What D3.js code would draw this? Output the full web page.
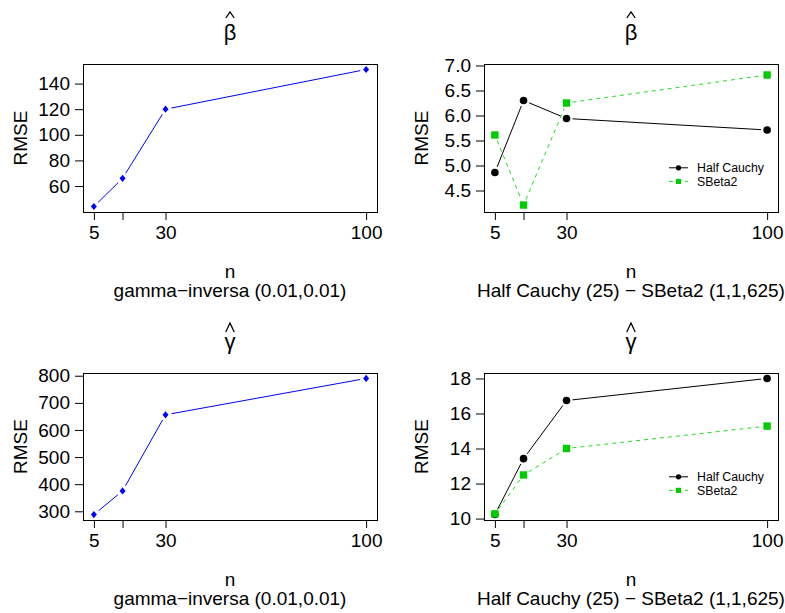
<!DOCTYPE html>
<html>
<head>
<meta charset="utf-8">
<script src="https://cdn.jsdelivr.net/npm/d3@7"></script>
<style>
  html, body { margin: 0; padding: 0; background: #fff; }
  svg { display: block; font-family: "Liberation Sans", Arial, Helvetica, sans-serif; }
</style>
</head>
<body>
<svg id="chart" width="785" height="613"></svg>
<script>
// Sample sizes and their tick labels (15 has a tick but no label)
const nValues = [5, 15, 30, 100];
const xTickLabels = ["5", "", "30", "100"];

// RMSE of beta-hat and gamma-hat under the inverse-gamma prior
const betaGammaInv = [44, 66, 120, 151];
const gammaGammaInv = [288, 375, 656, 790];

// RMSE under Half Cauchy (25) and SBeta2 (1,1,625) priors
const betaHalfCauchy = [4.86, 6.30, 5.94, 5.71];
const betaSBeta2 = [5.61, 4.21, 6.25, 6.81];
const gammaHalfCauchy = [10.23, 13.42, 16.74, 18.0];
const gammaSBeta2 = [10.27, 12.49, 14.0, 15.28];

// y-axis ticks per panel
const yTicksBetaInv = [60, 80, 100, 120, 140];
const yTicksBetaMix = [4.5, 5.0, 5.5, 6.0, 6.5, 7.0];
const yTicksGammaInv = [300, 400, 500, 600, 700, 800];
const yTicksGammaMix = [10, 12, 14, 16, 18];
const yLimitsBetaMix = [4.18, 6.92];

const legendLabels = ["Half Cauchy", "SBeta2"];
const subInv = "gamma\u2212inversa (0.01,0.01)";
const subMix = "Half Cauchy (25) \u2212 SBeta2 (1,1,625)";

const BLUE = "#0000ff", BLACK = "#000000", GREEN = "#00cd00", GREEN_LINE = "#22dd22";
const FONT = 19;

const svg = d3.select("#chart");

const panels = [
  { box: [83, 64, 377, 212], sym: "\u03b2", sub: subInv, ticks: yTicksBetaInv, fmt: d3.format("d"),
    series: [{ values: betaGammaInv, color: BLUE, shape: "diamond", dash: null }] },
  { box: [484, 64, 778, 212], sym: "\u03b2", sub: subMix, ticks: yTicksBetaMix, fmt: d3.format(".1f"), lim: yLimitsBetaMix, legend: true,
    series: [{ values: betaHalfCauchy, color: BLACK, shape: "circle", dash: null },
             { values: betaSBeta2, color: GREEN, lineColor: GREEN_LINE, shape: "square", dash: "4,4" }] },
  { box: [83, 373, 377, 520], sym: "\u03b3", sub: subInv, ticks: yTicksGammaInv, fmt: d3.format("d"),
    series: [{ values: gammaGammaInv, color: BLUE, shape: "diamond", dash: null }] },
  { box: [484, 373, 778, 520], sym: "\u03b3", sub: subMix, ticks: yTicksGammaMix, fmt: d3.format("d"), legend: true,
    series: [{ values: gammaHalfCauchy, color: BLACK, shape: "circle", dash: null },
             { values: gammaSBeta2, color: GREEN, lineColor: GREEN_LINE, shape: "square", dash: "4,4" }] }
];

// R-style 4% padding of a range
function padded(lo, hi) {
  const d = (hi - lo) * 0.04;
  return [lo - d, hi + d];
}

function drawMarker(g, shape, x, y, color, scale) {
  const s = scale || 1;
  if (shape === "circle") {
    g.append("circle").attr("cx", x).attr("cy", y).attr("r", 3.8 * s).attr("fill", color);
  } else if (shape === "square") {
    const h = 3.7 * s;
    g.append("rect").attr("x", x - h).attr("y", y - h).attr("width", 2 * h).attr("height", 2 * h).attr("fill", color);
  } else {
    const h = 3.6 * s, w = 3.0 * s;
    g.append("path").attr("d", `M${x},${y - h}L${x + w},${y}L${x},${y + h}L${x - w},${y}Z`).attr("fill", color);
  }
}

// type = "b": segments between points, broken near each point
function drawBrokenLine(g, pts, color, dash) {
  const gap = 6;
  for (let i = 0; i < pts.length - 1; i++) {
    const [x1, y1] = pts[i], [x2, y2] = pts[i + 1];
    const len = Math.hypot(x2 - x1, y2 - y1);
    if (len <= 2 * gap) continue;
    const ux = (x2 - x1) / len, uy = (y2 - y1) / len;
    g.append("line")
      .attr("x1", x1 + ux * gap).attr("y1", y1 + uy * gap)
      .attr("x2", x2 - ux * gap).attr("y2", y2 - uy * gap)
      .attr("stroke", color).attr("stroke-width", 1)
      .attr("stroke-dasharray", dash);
  }
}

panels.forEach(p => {
  const [x0, y0, x1, y1] = p.box;
  const g = svg.append("g");

  const x = d3.scaleLinear().domain(padded(d3.min(nValues), d3.max(nValues))).range([x0, x1]);
  const allY = p.series.flatMap(s => s.values);
  const lim = p.lim || [d3.min(allY), d3.max(allY)];
  const y = d3.scaleLinear().domain(padded(lim[0], lim[1])).range([y1, y0]);

  // x axis
  const xAxis = d3.axisBottom(x).tickValues(nValues)
    .tickFormat((d, i) => xTickLabels[i]).tickSize(8).tickPadding(6).tickSizeOuter(0);
  const gx = g.append("g").attr("transform", `translate(0,${y1})`).call(xAxis);
  gx.select(".domain").attr("d", `M${x(nValues[0])},0.5H${x(nValues[nValues.length - 1])}`);
  gx.selectAll("text").attr("font-size", FONT).attr("font-family", null).attr("fill", "#000");
  gx.selectAll("line").attr("stroke", "#000");

  // y axis
  const yAxis = d3.axisLeft(y).tickValues(p.ticks).tickFormat(p.fmt).tickSize(8).tickPadding(5).tickSizeOuter(0);
  const gy = g.append("g").attr("transform", `translate(${x0},0)`).call(yAxis);
  gy.select(".domain").remove();
  gy.selectAll("text").attr("font-size", FONT).attr("font-family", null).attr("fill", "#000");
  gy.selectAll("line").attr("stroke", "#000");

  // plot box
  g.append("rect").attr("x", x0 + 0.5).attr("y", y0 + 0.5)
    .attr("width", x1 - x0).attr("height", y1 - y0)
    .attr("fill", "none").attr("stroke", "#000").attr("stroke-width", 1);

  // series
  p.series.forEach(s => {
    const pts = s.values.map((v, i) => [x(nValues[i]), y(v)]);
    drawBrokenLine(g, pts, s.lineColor || s.color, s.dash);
    pts.forEach(([px, py]) => drawMarker(g, s.shape, px, py, s.color));
  });

  // title: greek letter with a hat accent drawn as a chevron
  const cx = (x0 + x1) / 2;
  const isBeta = p.sym === "\u03b2";
  g.append("text").attr("x", cx).attr("y", y0 - 24).attr("text-anchor", "middle")
    .attr("font-size", 22).text(p.sym);
  const hatTop = isBeta ? y0 - 52 : y0 - 50;
  const hatH = isBeta ? 6 : 9, hatW = 4.2;
  g.append("path")
    .attr("d", `M${cx - hatW},${hatTop + hatH}L${cx},${hatTop}L${cx + hatW},${hatTop + hatH}`)
    .attr("fill", "none").attr("stroke", "#000").attr("stroke-width", 1.3);

  // axis titles
  g.append("text").attr("x", cx).attr("y", y1 + 66).attr("text-anchor", "middle")
    .attr("font-size", FONT).text("n");
  g.append("text").attr("x", cx).attr("y", y1 + 85).attr("text-anchor", "middle")
    .attr("font-size", FONT).text(p.sub);
  g.append("text").attr("transform", `translate(${x0 - 56},${(y0 + y1) / 2}) rotate(-90)`)
    .attr("text-anchor", "middle").attr("font-size", FONT).text("RMSE");

  // legend
  if (p.legend) {
    p.series.forEach((s, i) => {
      const ly = y0 + 103.8 + i * 13.6;
      const lx0 = x1 - 109, lx1 = x1 - 90;
      g.append("line").attr("x1", lx0).attr("x2", lx1).attr("y1", ly).attr("y2", ly)
        .attr("stroke", s.lineColor || s.color).attr("stroke-width", 1).attr("stroke-dasharray", s.dash);
      drawMarker(g, s.shape, (lx0 + lx1) / 2, ly, s.color, 0.7);
      g.append("text").attr("x", x1 - 81).attr("y", ly + 4.3).attr("font-size", 12.3).text(legendLabels[i]);
    });
  }
});
</script>
</body>
</html>
